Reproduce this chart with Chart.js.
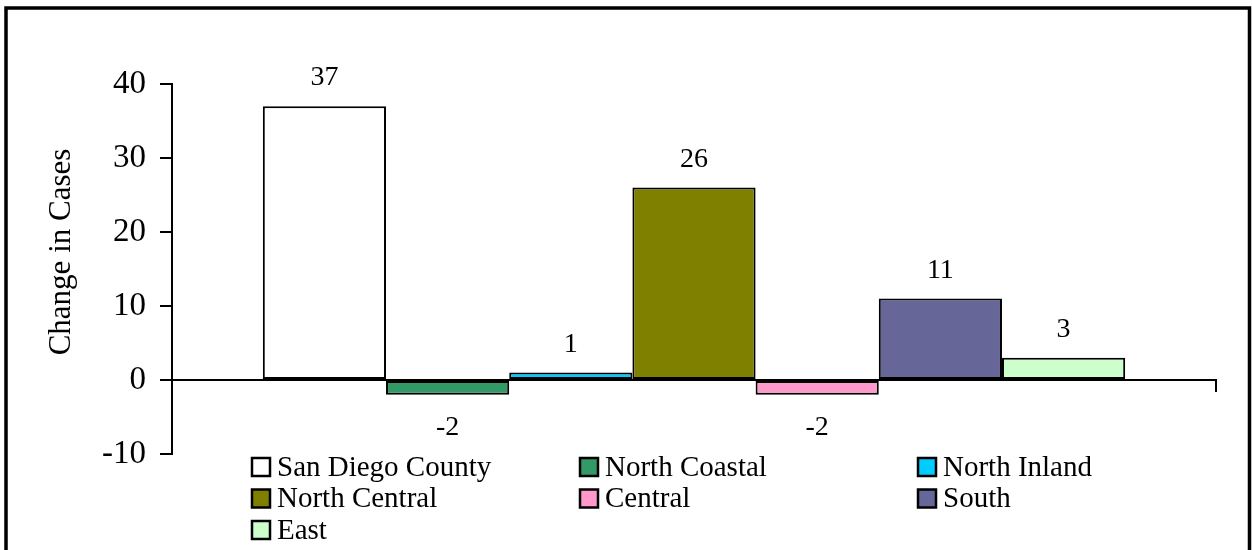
<!DOCTYPE html>
<html>
<head>
<meta charset="utf-8">
<script src="https://cdn.jsdelivr.net/npm/chart.js@4"></script>
<style>
  html, body { margin: 0; padding: 0; background: #fff; }
  #wrap { width: 1252px; height: 550px; position: relative; }
</style>
</head>
<body>
<div id="wrap"><canvas id="chart"></canvas></div>
<script>
// Regionen und Veränderung der Fallzahlen
const categories = [''];
const regions = ['San Diego County', 'North Coastal', 'North Inland', 'North Central', 'Central', 'South', 'East'];
const changeInCases = [37, -2, 1, 26, -2, 11, 3];
const regionColors = ['#FFFFFF', '#339966', '#00CCFF', '#808000', '#FF99CC', '#666699', '#CCFFCC'];
const yTitle = 'Change in Cases';
const yMin = -10;
const yMax = 40;
const yStep = 10;

const serif = "'Liberation Serif', 'Times New Roman', serif";

// Rahmen um die ganze Grafik
const framePlugin = {
    id: 'frame',
    afterDraw(chart) {
        const ctx = chart.ctx;
        ctx.save();
        ctx.strokeStyle = '#000';
        ctx.lineWidth = 3.5;
        ctx.strokeRect(6, 8, 1243.5, 560);
        ctx.restore();
    }
};

// Achsentitel links, etwas über der Mitte
const axisTitle = {
    id: 'axisTitle',
    afterDraw(chart) {
        const ctx = chart.ctx;
        ctx.save();
        ctx.translate(62, 252);
        ctx.rotate(-Math.PI / 2);
        ctx.font = '31px ' + serif;
        ctx.fillStyle = '#000';
        ctx.textAlign = 'center';
        ctx.textBaseline = 'middle';
        ctx.fillText(yTitle, 0, 0);
        ctx.restore();
    }
};

// Werte über bzw. unter den Balken
const valueLabels = {
    id: 'valueLabels',
    afterDatasetsDraw(chart) {
        const ctx = chart.ctx;
        ctx.save();
        ctx.font = '28px ' + serif;
        ctx.fillStyle = '#000';
        ctx.textAlign = 'center';
        ctx.textBaseline = 'alphabetic';
        chart.data.datasets.forEach((ds, i) => {
            const bar = chart.getDatasetMeta(i).data[0];
            const v = ds.data[0];
            if (v >= 0) {
                ctx.fillText(String(v), bar.x, bar.y - 21);
            } else {
                ctx.fillText(String(v), bar.x, bar.y + 40);
            }
        });
        ctx.restore();
    }
};

// Legende in drei Spalten
const gridLegend = {
    id: 'gridLegend',
    afterDraw(chart) {
        const ctx = chart.ctx;
        const cols = [252, 580, 918];
        const rowTop = 467;
        const rowGap = 31.5;
        const box = 18;
        ctx.save();
        ctx.font = '29px ' + serif;
        ctx.textBaseline = 'middle';
        ctx.textAlign = 'left';
        chart.data.datasets.forEach((ds, i) => {
            const x = cols[i % 3];
            const y = rowTop + Math.floor(i / 3) * rowGap;
            ctx.fillStyle = ds.backgroundColor;
            ctx.fillRect(x, y - box / 2, box, box);
            ctx.strokeStyle = '#000';
            ctx.lineWidth = 2.5;
            ctx.strokeRect(x, y - box / 2, box, box);
            ctx.fillStyle = '#000';
            ctx.fillText(ds.label, x + box + 7, y + 1);
        });
        ctx.restore();
    }
};

const ctx = document.getElementById('chart').getContext('2d');
new Chart(ctx, {
    type: 'bar',
    data: {
        labels: categories,
        datasets: regions.map((name, i) => ({
            label: name,
            data: [changeInCases[i]],
            backgroundColor: regionColors[i],
            borderColor: '#000',
            borderWidth: 2,
            borderSkipped: false,
            categoryPercentage: 0.826,
            barPercentage: 1
        }))
    },
    options: {
        responsive: true,
        maintainAspectRatio: false,
        animation: false,
        layout: {
            padding: { left: 0, top: 84, right: 36, bottom: 96 }
        },
        plugins: {
            legend: { display: false },
            tooltip: { enabled: false }
        },
        scales: {
            x: {
                position: { y: 0 },
                ticks: { display: false },
                grid: {
                    drawOnChartArea: false,
                    drawTicks: true,
                    tickLength: 11,
                    color: '#000',
                    lineWidth: 2
                },
                border: { color: '#000', width: 2 }
            },
            y: {
                min: yMin,
                max: yMax,
                ticks: {
                    stepSize: yStep,
                    color: '#000',
                    padding: 14,
                    font: { family: serif, size: 33 }
                },
                grid: {
                    drawOnChartArea: false,
                    tickLength: 12,
                    color: '#000',
                    lineWidth: 2
                },
                border: { color: '#000', width: 2 },
                afterFit(scale) {
                    scale.width = 172;
                }
            }
        }
    },
    plugins: [framePlugin, axisTitle, valueLabels, gridLegend]
});
</script>
</body>
</html>
